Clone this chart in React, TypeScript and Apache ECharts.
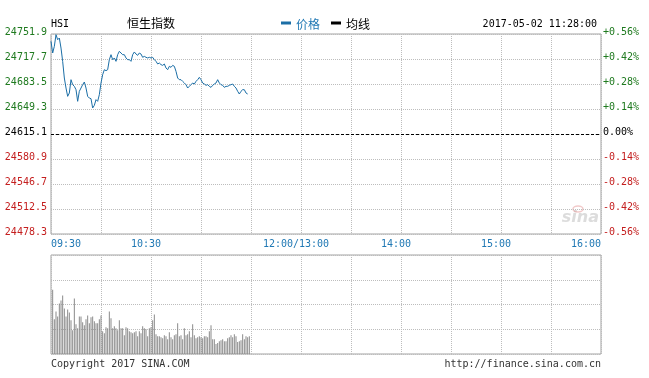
import React, { useEffect, useRef } from "react";
import * as echarts from "echarts";

const symbolName = "HSI";
const indexName = "恒生指数";
const stamp = "2017-05-02 11:28:00";
const legendNames = ["价格", "均线"];
const prevClose = 24615.1;
const priceMin = 24478.3;
const priceMax = 24751.9;
const priceStep = 34.2;
const sessionMinutes = 330;
const timeTicks = [0, 60, 150, 210, 270, 330];
const timeLabels = ["09:30", "10:30", "12:00/13:00", "14:00", "15:00", "16:00"];
const copyrightText = "Copyright 2017 SINA.COM";
const urlText = "http://finance.sina.com.cn";

// minute-by-minute index level from 09:30 to 11:28
const prices = [
  24741.9, 24725.9, 24735.0, 24751.0, 24744.1, 24746.4, 24732.7, 24714.5, 24691.7, 24678.0,
  24666.6, 24671.2, 24689.4, 24682.6, 24680.3, 24675.7, 24659.8, 24673.5, 24678.0, 24682.6,
  24686.2, 24678.0, 24666.6, 24664.3, 24663.4, 24650.7, 24654.3, 24662.1, 24659.8, 24668.9,
  24684.9, 24696.3, 24703.1, 24701.7, 24703.1, 24716.8, 24723.6, 24716.8, 24719.1, 24714.5,
  24723.6, 24728.2, 24725.9, 24723.6, 24723.6, 24719.1, 24716.8, 24716.8, 24714.5, 24723.6,
  24727.3, 24724.5, 24722.7, 24725.9, 24724.5, 24720.0, 24721.3, 24720.0, 24719.1, 24720.0,
  24719.1, 24720.0, 24716.8, 24714.5, 24710.9, 24712.2, 24710.0, 24709.0, 24710.9, 24705.4,
  24703.1, 24707.7, 24706.3, 24709.0, 24707.7, 24700.8, 24691.7, 24689.4, 24689.4, 24687.1,
  24684.9, 24682.6, 24678.0, 24680.3, 24682.6, 24684.9, 24683.5, 24687.1, 24689.4, 24692.6,
  24689.4, 24684.9, 24683.5, 24681.7, 24682.6, 24680.3, 24678.9, 24681.7, 24683.5, 24684.9,
  24689.4, 24684.9, 24682.6, 24681.7, 24678.9, 24680.3, 24680.3, 24681.7, 24682.6, 24683.5,
  24680.3, 24678.0, 24673.5, 24669.8, 24673.5, 24675.7, 24675.7, 24671.2, 24669.8,
];

// minute volumes (relative units)
const volumes = [
  65, 35, 43, 38, 51, 54, 59, 46, 38, 45,
  42, 34, 24, 56, 30, 26, 38, 38, 32, 29,
  35, 39, 31, 37, 38, 33, 31, 31, 35, 39,
  23, 21, 27, 26, 43, 36, 26, 28, 26, 24,
  34, 26, 26, 19, 27, 26, 23, 22, 21, 22,
  23, 18, 23, 21, 28, 26, 25, 18, 26, 27,
  34, 40, 20, 18, 18, 17, 16, 19, 18, 15,
  22, 17, 15, 19, 20, 31, 18, 19, 15, 26,
  19, 20, 23, 17, 30, 19, 16, 17, 18, 17,
  16, 18, 18, 17, 23, 29, 15, 15, 10, 11,
  13, 14, 15, 13, 13, 16, 17, 19, 17, 20,
  18, 12, 13, 14, 20, 15, 18, 17, 18,
];
const volumeMax = 100;
const volumeStep = 25;

const MONO = "'DejaVu Sans Mono', 'Liberation Mono', monospace";
const CJK = "'Noto Sans CJK SC', sans-serif";
const GREEN = "#1f7a1f";
const RED = "#c41e1e";
const BLUE = "#1f78b4";
const LINE = "#1b6ea6";
const GRIDC = "#bdbdbd";
const BORDER = "#a3a3a3";

function levelKey(v: number) {
  if (v > prevClose + 0.01) return "up";
  if (v < prevClose - 0.01) return "dn";
  return "eq";
}

const levelRich = {
  up: { color: GREEN, fontFamily: MONO, fontSize: 10, padding: [0, 0, 6, 0] },
  dn: { color: RED, fontFamily: MONO, fontSize: 10, padding: [0, 0, 6, 0] },
  eq: { color: "#000", fontFamily: MONO, fontSize: 10, padding: [0, 0, 6, 0] },
};

export default function App() {
  const ref = useRef<HTMLDivElement | null>(null);
  useEffect(() => {
    if (!ref.current) return;
    const chart = echarts.init(ref.current, undefined, { renderer: "svg" });
    const split = { show: true, lineStyle: { color: GRIDC, type: [1, 1], width: 1 } };
    const timeFmt = (v: number) => {
      const k = timeTicks.indexOf(Math.round(v));
      if (k < 0) return "";
      if (k === 0 || k === timeTicks.length - 1) return `{e|${timeLabels[k]}}`;
      return `{m|${timeLabels[k]}}`;
    };
    chart.setOption({
      animation: false,
      legend: {
        data: [
          { name: legendNames[0], textStyle: { color: BLUE } },
          { name: legendNames[1], textStyle: { color: "#000" } },
        ],
        left: 281,
        top: 17,
        padding: 0,
        icon: "rect",
        itemWidth: 10,
        itemHeight: 3,
        itemGap: 11,
        selectedMode: false,
        textStyle: { fontFamily: CJK, fontSize: 12 },
      },
      grid: [
        { left: 51, top: 34, width: 550, height: 200, show: true, borderColor: BORDER, borderWidth: 1 },
        { left: 51, top: 255, width: 550, height: 99, show: true, borderColor: BORDER, borderWidth: 1 },
      ],
      xAxis: [
        {
          type: "value", gridIndex: 0, min: 0, max: sessionMinutes, interval: 30,
          axisLine: { show: false }, axisTick: { show: false }, splitLine: split,
          axisLabel: {
            formatter: timeFmt, color: BLUE, fontFamily: MONO, fontSize: 10, margin: 4,
            showMinLabel: true, showMaxLabel: true, alignMinLabel: "left", alignMaxLabel: "right",
            rich: {
              e: { color: BLUE, fontFamily: MONO, fontSize: 10 },
              m: { color: BLUE, fontFamily: MONO, fontSize: 10, padding: [0, 10, 0, 0] },
            },
          },
        },
        {
          type: "value", gridIndex: 1, min: 0, max: sessionMinutes, interval: 30,
          axisLine: { show: false }, axisTick: { show: false }, splitLine: split,
          axisLabel: { show: false },
        },
      ],
      yAxis: [
        {
          type: "value", gridIndex: 0, min: priceMin, max: priceMax, interval: priceStep,
          axisLine: { show: false }, axisTick: { show: false },
          splitLine: split,
          axisLabel: {
            formatter: (v: number) => `{${levelKey(v)}|${v.toFixed(1)}}`,
            rich: levelRich, margin: 4,
            showMinLabel: true, showMaxLabel: true,
          },
        },
        {
          type: "value", gridIndex: 0, position: "right", min: priceMin, max: priceMax, interval: priceStep,
          axisLine: { show: false }, axisTick: { show: false }, splitLine: { show: false },
          axisLabel: {
            formatter: (v: number) => {
              const pct = ((v - prevClose) / prevClose) * 100;
              const txt = Math.abs(pct) < 0.005 ? "0.00%" : (pct > 0 ? "+" : "") + pct.toFixed(2) + "%";
              return `{${levelKey(v)}|${txt}}`;
            },
            rich: levelRich, margin: 2,
            showMinLabel: true, showMaxLabel: true,
          },
        },
        {
          type: "value", gridIndex: 1, min: 0, max: volumeMax, interval: volumeStep,
          axisLine: { show: false }, axisTick: { show: false }, splitLine: split,
          axisLabel: { show: false },
        },
      ],
      series: [
        {
          name: legendNames[0], type: "line", xAxisIndex: 0, yAxisIndex: 0,
          data: prices.map((p, i) => [i, p]),
          symbol: "none", color: LINE, lineStyle: { color: LINE, width: 1 },
          markLine: {
            silent: true, symbol: ["none", "none"], label: { show: false },
            lineStyle: { color: "#000", type: [3, 2], width: 1 },
            data: [{ yAxis: prevClose }],
          },
        },
        {
          name: legendNames[1], type: "line", xAxisIndex: 0, yAxisIndex: 0,
          data: [], symbol: "none", color: "#000",
        },
        {
          name: "volume", type: "bar", xAxisIndex: 1, yAxisIndex: 2,
          data: volumes.map((v, i) => [i + 1, v]),
          barWidth: 1, itemStyle: { color: "#8a8a8a" },
        },
      ],
      graphic: [
        { type: "text", left: 51, top: 18, style: { text: symbolName, font: `10px ${MONO}`, fill: "#000" } },
        { type: "text", left: 127, top: 16, style: { text: indexName, font: `12px ${CJK}`, fill: "#000" } },
        { type: "text", right: 52, top: 18, style: { text: stamp, font: `10px ${MONO}`, fill: "#000" } },
        { type: "text", left: 51, top: 358, style: { text: copyrightText, font: `10px ${MONO}`, fill: "#333" } },
        { type: "text", right: 48, top: 358, style: { text: urlText, font: `10px ${MONO}`, fill: "#333" } },
        { type: "text", right: 50, top: 208, style: { text: "sina", font: `italic bold 16px 'DejaVu Sans', sans-serif`, fill: "rgba(205,205,205,0.7)" } },
        { type: "ellipse", shape: { cx: 578, cy: 209, rx: 5, ry: 3 }, style: { fill: "none", stroke: "rgba(230,150,150,0.5)", lineWidth: 1.5 } },
      ],
    });
    return () => chart.dispose();
  }, []);
  return <div ref={ref} style={{ position: "fixed", left: 0, top: 0, width: 649, height: 378 }} />;
}
